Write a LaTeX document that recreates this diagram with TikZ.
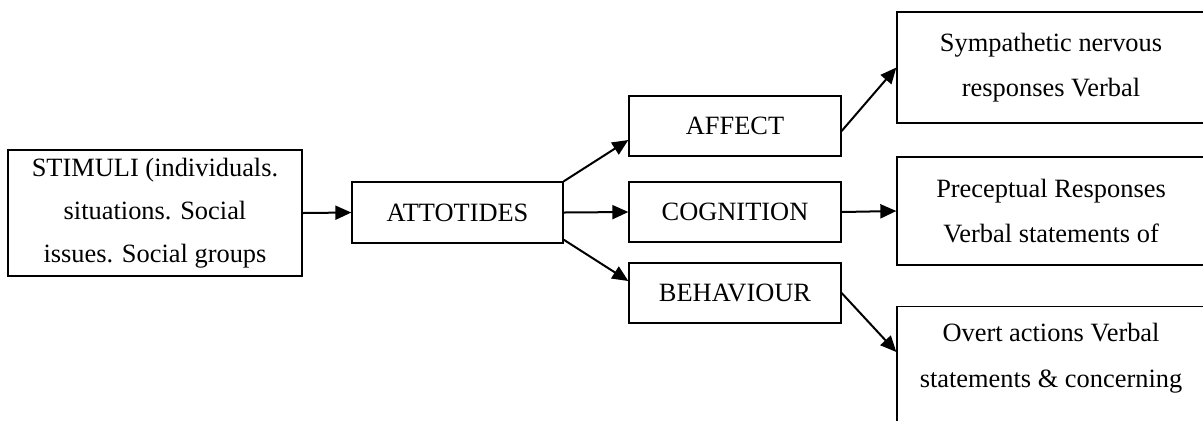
\documentclass[tikz,border=0pt]{standalone}
\usepackage{fontspec}
\setmainfont{Liberation Serif}
\usetikzlibrary{arrows.meta}
\tikzset{
  box/.style={draw, line width=0.65pt, align=center, inner sep=0pt,
    font=\fontsize{13.2}{21.5}\selectfont},
  outbox/.style={box, minimum width=154pt, font=\fontsize{13.2}{22.8}\selectfont},
  flow/.style={line width=1pt, -{Triangle[length=8pt,width=7pt]}}
}
\begin{document}
\begin{tikzpicture}[x=0.5pt,y=-0.5pt]
  \useasboundingbox (0,0) rectangle (1203,420);
  \clip (0,0) rectangle (1203,420);
  \node[box, minimum width=147pt, minimum height=63pt] (stim) at (155,213)
    {STIMULI (individuals.\\situations. Social\\issues. Social groups};
  \node[box, minimum width=105.5pt, minimum height=30.5pt] (att) at (457.5,212.5) {ATTOTIDES};
  \node[box, minimum width=106pt, minimum height=30pt] (aff) at (735,126) {AFFECT};
  \node[box, minimum width=106pt, minimum height=30pt] (cog) at (735,212) {COGNITION};
  \node[box, minimum width=106pt, minimum height=30pt] (beh) at (735,293) {BEHAVIOUR};
  \node[outbox, minimum height=55.5pt] (symp) at (1051,67.5)
    {Sympathetic nervous\\responses Verbal};
  \node[outbox, minimum height=54pt] (prec) at (1051,211)
    {Preceptual Responses\\Verbal statements of};
  \node[outbox, anchor=north, text depth=50pt, inner ysep=8.5pt] (overt) at (1051,306)
    {Overt actions Verbal\\statements \& concerning};
  \draw[flow] (stim.east) -- (att.west);
  \draw[flow] (att.north east) -- ([yshift=-7pt]aff.west);
  \draw[flow] (att.east) -- (cog.west);
  \draw[flow] ([yshift=2pt]att.south east) -- ([yshift=6pt]beh.west);
  \draw[flow] ([yshift=-2.5pt]aff.east) -- (symp.west);
  \draw[flow] (cog.east) -- (prec.west);
  \draw[flow] (beh.east) -- ([yshift=-23pt]overt.north west);
\end{tikzpicture}
\end{document}
